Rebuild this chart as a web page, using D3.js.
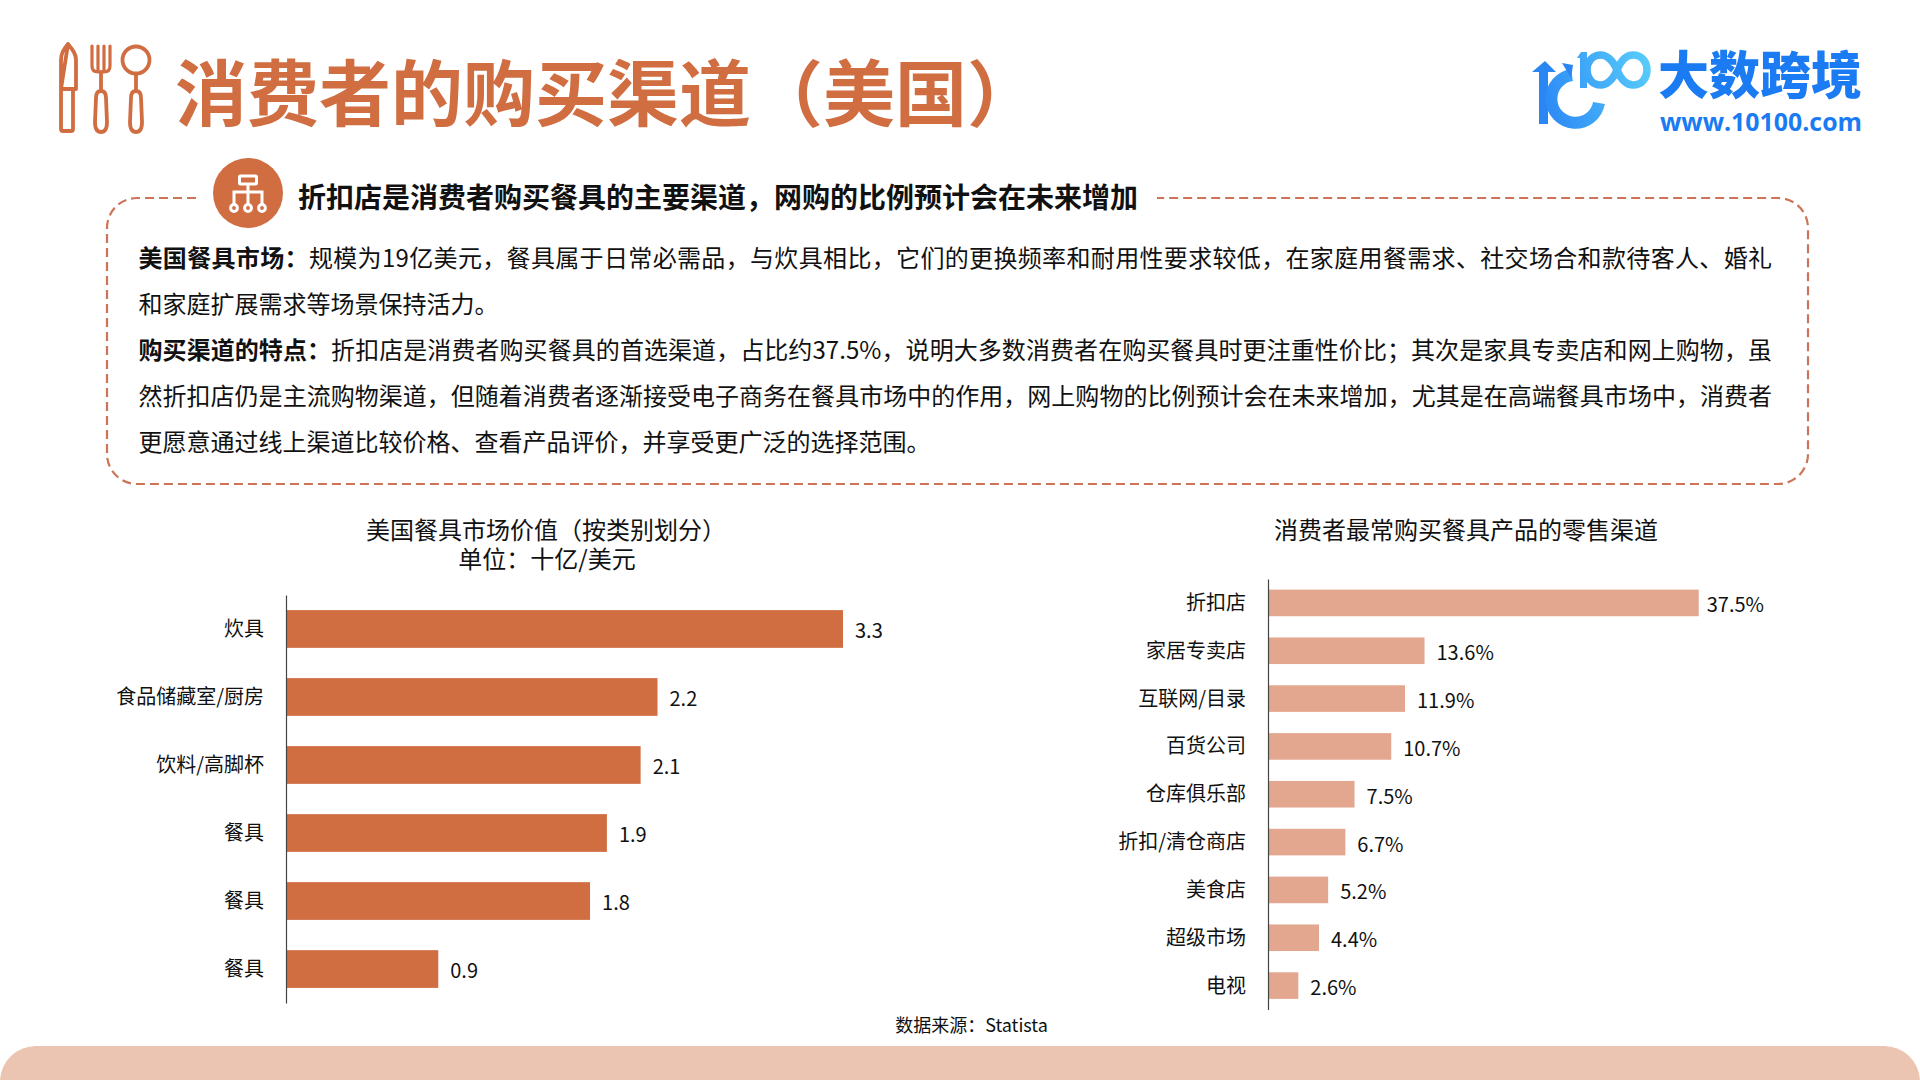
<!DOCTYPE html>
<html lang="zh">
<head>
<meta charset="utf-8">
<script src="https://cdn.jsdelivr.net/npm/d3@7"></script>
<style>
html, body { margin: 0; padding: 0; background: #fff; }
svg { display: block; }
text { font-family: "Noto Sans CJK SC", "Noto Sans", sans-serif; fill: #111; }
</style>
</head>
<body>
<svg id="page" width="1920" height="1080"></svg>
<script>
// chart values
const marketCategories = ["炊具", "食品储藏室/厨房", "饮料/高脚杯", "餐具", "餐具", "餐具"];
const marketValues = [3.3, 2.2, 2.1, 1.9, 1.8, 0.9];
const channelCategories = ["折扣店", "家居专卖店", "互联网/目录", "百货公司", "仓库俱乐部", "折扣/清仓商店", "美食店", "超级市场", "电视"];
const channelValues = [37.5, 13.6, 11.9, 10.7, 7.5, 6.7, 5.2, 4.4, 2.6];

const pageTitle = "消费者的购买渠道（美国）";
const subTitle = "折扣店是消费者购买餐具的主要渠道，网购的比例预计会在未来增加";
const bodyBold = ["美国餐具市场：", "", "购买渠道的特点：", "", ""];
const bodyText = [
    "规模为19亿美元，餐具属于日常必需品，与炊具相比，它们的更换频率和耐用性要求较低，在家庭用餐需求、社交场合和款待客人、婚礼",
    "和家庭扩展需求等场景保持活力。",
    "折扣店是消费者购买餐具的首选渠道，占比约37.5%，说明大多数消费者在购买餐具时更注重性价比；其次是家具专卖店和网上购物，虽",
    "然折扣店仍是主流购物渠道，但随着消费者逐渐接受电子商务在餐具市场中的作用，网上购物的比例预计会在未来增加，尤其是在高端餐具市场中，消费者",
    "更愿意通过线上渠道比较价格、查看产品评价，并享受更广泛的选择范围。"
];
const justifiedLines = [0, 2, 3];

const ORANGE = "#d06e42";
const SALMON = "#e3a68f";
const BAND = "#ebc5b2";
const DASH = "#cc7358";

const svg = d3.select("#page");

// bottom band
svg.append("path").attr("fill", BAND)
    .attr("d", "M0,1080 A36,36 0 0 1 36,1046 H1884 A36,36 0 0 1 1920,1080 Z");

// title + cutlery icon
const cutlery = svg.append("g").attr("fill", "none").attr("stroke", ORANGE).attr("stroke-width", 3.8)
    .attr("stroke-linejoin", "round").attr("stroke-linecap", "round");
cutlery.append("path").attr("d", "M68,44 C64,49 61,53 61,60 V129 Q61,131 63,131 H71 Q73,131 73,129 V89 M61,89 H76 V60 C76,53 72,49 68,44 Z");
cutlery.append("path").attr("stroke-width", 3.2).attr("d", "M92,46 V66 Q92,72 98,72 H104 Q110,72 110,66 V46 M98,46 V72 M104,46 V72");
cutlery.append("path").attr("d", "M101,72 V91 M101,91 C97,91 96,94 96,98 L95,122 Q95,132 101,132 Q107,132 107,122 L106,98 C106,94 105,91 101,91 Z");
cutlery.append("circle").attr("cx", 136).attr("cy", 60).attr("r", 13.5);
cutlery.append("path").attr("d", "M136,74 V91 M136,91 C132,91 131,94 131,98 L130,122 Q130,132 136,132 Q142,132 142,122 L141,98 C141,94 140,91 136,91 Z");

svg.append("text").attr("x", 175).attr("y", 120)
    .attr("font-size", 72).attr("font-weight", 700).style("fill", ORANGE).text(pageTitle);

// logo
const defs = svg.append("defs");
const logoGrad = defs.append("linearGradient").attr("id", "logoGrad").attr("gradientUnits", "userSpaceOnUse")
    .attr("x1", 1535).attr("x2", 1650).attr("y1", 100).attr("y2", 60);
logoGrad.append("stop").attr("offset", "0").attr("stop-color", "#2a86f5");
logoGrad.append("stop").attr("offset", "1").attr("stop-color", "#58cdfb");

const logo = svg.append("g");
logo.append("path").attr("fill", "#2a86f3").attr("d", "M1545,61 L1556,72 L1548,72 V124 H1539 V72 H1532 Z");
logo.append("path").attr("fill", "none").attr("stroke", "url(#logoGrad)").attr("stroke-width", 12)
    .attr("d", "M1572,75 A24,24 0 1 0 1599,103");
logo.append("path").attr("fill", "#2a86f3").attr("d", "M1562,63 L1573,65 L1571,78 Z");
logo.append("path").attr("fill", "url(#logoGrad)").attr("d", "M1577,58 L1581,52 H1587 V88 H1580 V58 Z");
logo.append("path").attr("fill", "none").attr("stroke", "url(#logoGrad)").attr("stroke-width", 7.5)
    .attr("d", "M1617,70 C1612,58 1605,55 1601,55 C1592,55 1587,62 1587,70 C1587,78 1592,85 1601,85 C1605,85 1612,82 1617,70 C1622,58 1628,55 1633,55 C1642,55 1647,62 1647,70 C1647,78 1642,85 1633,85 C1628,85 1622,82 1617,70 Z");
logo.append("text").attr("x", 1658).attr("y", 94)
    .attr("font-size", 51).attr("font-weight", 900).style("fill", "#1a7bf2").text("大数跨境");
logo.append("text").attr("x", 1660).attr("y", 131).attr("textLength", 202).attr("lengthAdjust", "spacingAndGlyphs")
    .attr("font-size", 25).attr("font-weight", 700).style("font-family", "'Open Sans'").style("fill", "#1a7bf2").text("www.10100.com");

// dashed box, gap on top for the heading
svg.append("path").attr("fill", "none").attr("stroke", DASH).attr("stroke-width", 2.2).attr("stroke-dasharray", "9 5")
    .attr("d", "M196,198 H137 A30,30 0 0 0 107,228 V454 A30,30 0 0 0 137,484 H1778 A30,30 0 0 0 1808,454 V228 A30,30 0 0 0 1778,198 H1157");

svg.append("circle").attr("cx", 248).attr("cy", 193).attr("r", 35).attr("fill", ORANGE);
const orgIcon = svg.append("g").attr("fill", "none").attr("stroke", "#fff").attr("stroke-width", 3);
orgIcon.append("rect").attr("x", 239.5).attr("y", 176).attr("width", 17).attr("height", 8).attr("rx", 1);
orgIcon.append("path").attr("d", "M248,184 V192 M234,204 V192 H262 V204 M248,192 V204");
[234, 248, 262].forEach(x => orgIcon.append("circle").attr("cx", x).attr("cy", 208).attr("r", 3.4));

svg.append("text").attr("x", 298).attr("y", 207.5)
    .attr("font-size", 28).attr("font-weight", 700).text(subTitle);

// body paragraph lines, stretched to the box width where the original is justified
const bodyRows = svg.append("g").selectAll("text").data(bodyText).join("text")
    .attr("x", 138.5).attr("y", (d, i) => 266.5 + i * 46).attr("font-size", 24);
bodyRows.append("tspan").attr("font-weight", 700).text((d, i) => bodyBold[i]);
bodyRows.append("tspan").text(d => d);
bodyRows.each(function (d, i) {
    if (!justifiedLines.includes(i)) return;
    const natural = this.getComputedTextLength();
    const count = bodyBold[i].length + d.length;
    d3.select(this).style("letter-spacing", ((1633.5 - natural) / (count - 1)) + "px");
});

// left chart
const marketX = d3.scaleLinear().domain([0, 3.3]).range([286.5, 843]);
const marketY = d3.scaleBand().domain(d3.range(marketValues.length)).range([595, 1003]).paddingInner(0.445).paddingOuter(0.222);

svg.append("g").selectAll("rect").data(marketValues).join("rect")
    .attr("x", marketX(0)).attr("y", (d, i) => marketY(i))
    .attr("width", d => marketX(d) - marketX(0)).attr("height", marketY.bandwidth()).attr("fill", ORANGE);

const marketAxis = svg.append("g").attr("transform", `translate(${marketX(0) - 0.5},0)`)
    .call(d3.axisLeft(marketY).tickSize(0).tickPadding(22).tickFormat(i => marketCategories[i]));
marketAxis.select(".domain").attr("stroke", "#444").attr("stroke-width", 1.2);
marketAxis.selectAll("text").attr("font-size", 20).attr("font-family", null).attr("dy", "0.35em").style("fill", "#111");

svg.append("g").selectAll("text").data(marketValues).join("text")
    .attr("x", d => marketX(d) + 12).attr("y", (d, i) => marketY(i) + marketY.bandwidth() / 2 + 9)
    .attr("font-size", 20).text(d => d.toFixed(1));

const marketTitle = svg.append("text").attr("y", 538.5).attr("text-anchor", "middle").attr("font-size", 24);
marketTitle.append("tspan").attr("x", 546).text("美国餐具市场价值（按类别划分）");
marketTitle.append("tspan").attr("x", 547).attr("dy", 29).text("单位：十亿/美元");

// right chart
const channelX = d3.scaleLinear().domain([0, 37.5]).range([1268.5, 1698.7]);
const channelY = d3.scaleBand().domain(d3.range(channelValues.length)).range([579, 1009.5]).paddingInner(0.444).paddingOuter(0.222);

svg.append("g").selectAll("rect").data(channelValues).join("rect")
    .attr("x", channelX(0)).attr("y", (d, i) => channelY(i))
    .attr("width", d => channelX(d) - channelX(0)).attr("height", channelY.bandwidth()).attr("fill", SALMON);

const channelAxis = svg.append("g").attr("transform", `translate(${channelX(0) - 0.5},0)`)
    .call(d3.axisLeft(channelY).tickSize(0).tickPadding(22).tickFormat(i => channelCategories[i]));
channelAxis.select(".domain").attr("stroke", "#444").attr("stroke-width", 1.2);
channelAxis.selectAll("text").attr("font-size", 20).attr("font-family", null).attr("dy", "0.35em").style("fill", "#111");

svg.append("g").selectAll("text").data(channelValues).join("text")
    .attr("x", d => channelX(d) + (d > 30 ? 8 : 12)).attr("y", (d, i) => channelY(i) + channelY.bandwidth() / 2 + 9.5)
    .attr("font-size", 20).text(d => d.toFixed(1) + "%");

svg.append("text").attr("x", 1466).attr("y", 538.5).attr("text-anchor", "middle").attr("font-size", 24).text("消费者最常购买餐具产品的零售渠道");

// source
svg.append("text").attr("x", 971.5).attr("y", 1032).attr("text-anchor", "middle").attr("font-size", 18).text("数据来源：Statista");
</script>
</body>
</html>
